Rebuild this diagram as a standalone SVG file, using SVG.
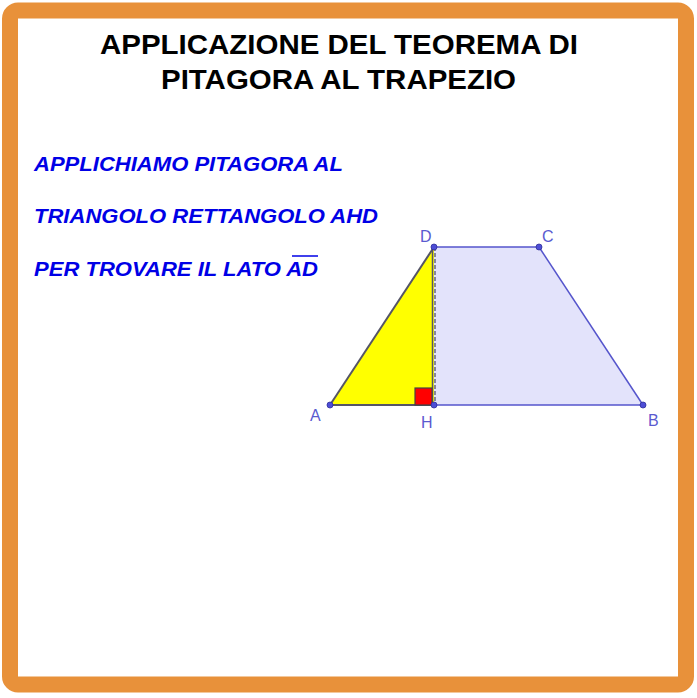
<svg xmlns="http://www.w3.org/2000/svg" width="697" height="698" viewBox="0 0 697 698">
<style>
.title{font-family:"Liberation Sans",Arial,sans-serif;font-weight:bold;font-size:28px;fill:#000}
.note{font-family:"Liberation Sans",Arial,sans-serif;font-weight:bold;font-style:italic;font-size:19.5px;fill:#0000e6}
.lbl{font-family:"Liberation Sans",Arial,sans-serif;font-size:16px;fill:#5a5ad0}
.pt{fill:#4d4dd6;stroke:#2f2f9a;stroke-width:0.8}
</style>
<rect x="0" y="0" width="697" height="698" fill="#ffffff"/>
<rect id="frame" x="10" y="10.5" width="676" height="674" rx="8" fill="#ffffff" stroke="#e8913a" stroke-width="16"/>
<g id="title">
<text class="title" x="100" y="54" textLength="478" lengthAdjust="spacingAndGlyphs">APPLICAZIONE DEL TEOREMA DI</text>
<text class="title" x="161" y="88.5" textLength="355" lengthAdjust="spacingAndGlyphs">PITAGORA AL TRAPEZIO</text>
</g>
<g id="notes">
<text class="note" x="34" y="171" textLength="309" lengthAdjust="spacingAndGlyphs">APPLICHIAMO PITAGORA AL</text>
<text class="note" x="34" y="223" textLength="344" lengthAdjust="spacingAndGlyphs">TRIANGOLO RETTANGOLO AHD</text>
<text class="note" x="34" y="276" textLength="284" lengthAdjust="spacingAndGlyphs">PER TROVARE IL LATO AD</text>
<line x1="292" y1="256" x2="318" y2="256" stroke="#0000e6" stroke-width="1.5"/>
</g>
<g id="trapezoid">
<polygon points="330,405 643,405 539,247 434,247" fill="#e3e3fb" stroke="none"/>
<polygon points="330,405 434,405 434,247" fill="#ffff00" stroke="none"/>
</g>
<g id="connectors" fill="none">
<line x1="434" y1="405" x2="643" y2="405" stroke="#5555cc" stroke-width="1.5"/>
<line x1="643" y1="405" x2="539" y2="247" stroke="#5555cc" stroke-width="1.5"/>
<line x1="539" y1="247" x2="434" y2="247" stroke="#5555cc" stroke-width="1.5"/>
<line x1="330" y1="405" x2="434" y2="405" stroke="#555566" stroke-width="2"/>
<line x1="330" y1="405" x2="434" y2="247" stroke="#555566" stroke-width="2"/>
<line x1="432.5" y1="247" x2="432.5" y2="405" stroke="#555566" stroke-width="1.5"/>
<line x1="435" y1="247" x2="435" y2="405" stroke="#555566" stroke-width="1.3" stroke-dasharray="4,2"/>
</g>
<g id="rightangle">
<rect x="415" y="388" width="17" height="17" fill="#ff0000" stroke="#444444" stroke-width="1.2"/>
</g>
<g id="A"><circle class="pt" cx="330" cy="405" r="3"/><text class="lbl" x="310" y="421">A</text></g>
<g id="H"><circle class="pt" cx="434" cy="405" r="3" fill="#9999dd"/><text class="lbl" x="421" y="428">H</text></g>
<g id="B"><circle class="pt" cx="643" cy="405" r="3"/><text class="lbl" x="648" y="426">B</text></g>
<g id="C"><circle class="pt" cx="539" cy="247" r="3"/><text class="lbl" x="542" y="242">C</text></g>
<g id="D"><circle class="pt" cx="434" cy="247" r="3"/><text class="lbl" x="420" y="242">D</text></g>
</svg>
